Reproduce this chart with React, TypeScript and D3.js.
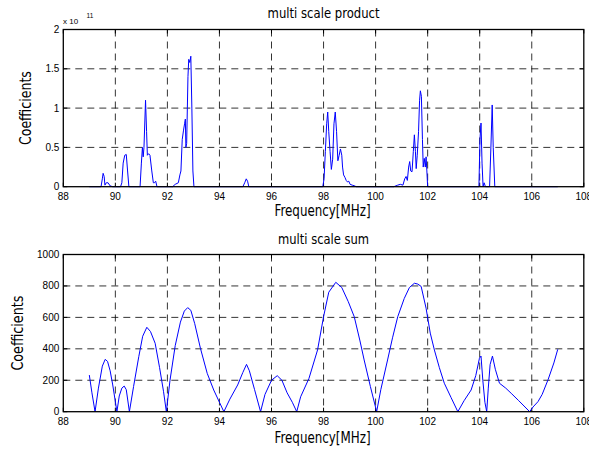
import React from "react";
import * as d3 from "d3";

const W = 589;
const H = 451;

// x ticks (MHz)
const xTicks = [88, 90, 92, 94, 96, 98, 100, 102, 104, 106, 108];
const topYTicks = [0, 0.5, 1, 1.5, 2];
const topYTickLabels = ["0", "0.5", "1", "1.5", "2"];
const botYTicks = [0, 200, 400, 600, 800, 1000];

// multi scale product (x 1e11)
const prodFreq = [
  89.0, 89.45, 89.5, 89.53, 89.57, 89.6, 89.65, 89.72, 89.8, 89.9,
  90.2, 90.25, 90.3, 90.36, 90.42, 90.47, 90.52,
  90.95, 91.0, 91.04, 91.07, 91.1, 91.16, 91.2, 91.23, 91.28, 91.33, 91.4, 91.46, 91.5, 91.55, 91.6,
  92.2, 92.3, 92.42, 92.48, 92.52, 92.57, 92.62, 92.66, 92.69, 92.71, 92.74, 92.79, 92.82, 92.86, 92.9, 92.94, 92.98, 93.02,
  94.9, 94.97, 95.03, 95.08, 95.13,
  97.97, 98.02, 98.07, 98.12, 98.16, 98.2, 98.25, 98.3, 98.35, 98.4, 98.45, 98.5, 98.55, 98.6, 98.65, 98.7, 98.73, 98.77, 98.82, 98.87, 98.92, 98.97, 99.02, 99.1, 99.2, 99.25,
  100.7, 100.85, 100.95, 101.05, 101.12, 101.17, 101.22, 101.27, 101.31, 101.35, 101.4, 101.45, 101.49, 101.53, 101.56, 101.6, 101.65, 101.69, 101.72, 101.76, 101.8, 101.83, 101.87, 101.91, 101.94, 101.97, 102.0,
  103.97, 104.01, 104.05, 104.09, 104.13, 104.17, 104.22,
  104.38, 104.43, 104.48, 104.52, 104.58,
  107.0,
];
const prodValue = [
  0, 0, 0.1, 0.17, 0.13, 0.02, 0.05, 0.05, 0.01, 0,
  0, 0.05, 0.3, 0.4, 0.41, 0.2, 0,
  0, 0.3, 0.5, 0.38, 0.5, 1.1, 0.7, 0.4, 0.42, 0.4, 0.2, 0.05, 0.05, 0.07, 0,
  0, 0.03, 0.05, 0.15, 0.2, 0.6, 0.72, 0.8, 0.86, 0.5, 0.55, 1.4, 1.62, 1.58, 1.66, 1.0, 0.2, 0,
  0, 0.05, 0.1, 0.07, 0,
  0, 0.1, 0.45, 0.8, 0.95, 0.7, 0.45, 0.22, 0.35, 0.8, 0.95, 0.7, 0.33, 0.4, 0.48, 0.4, 0.25, 0.15, 0.12, 0.08, 0.06, 0.07, 0.03, 0.02, 0.01, 0,
  0, 0.02, 0.03, 0.02, 0.1, 0.13, 0.08, 0.25, 0.32, 0.2, 0.19, 0.45, 0.66, 0.45, 0.23, 0.4, 0.7, 1.1, 1.22, 1.15, 0.6, 0.25, 0.36, 0.25, 0.38, 0.2, 0,
  0, 0.6, 0.81, 0.3, 0, 0.05, 0,
  0, 0.5, 1.04, 0.5, 0,
  0,
];

// multi scale sum
const sumFreq = [
  89.0, 89.1, 89.22, 89.35, 89.5, 89.61, 89.7, 89.8, 89.9, 90.06,
  90.15, 90.25, 90.34, 90.42, 90.54,
  90.7, 90.9, 91.05, 91.21, 91.35, 91.53, 91.7, 91.85, 91.96,
  92.1, 92.3, 92.5, 92.65, 92.78, 92.9, 93.05, 93.27, 93.53, 93.78, 94.0, 94.17,
  94.4, 94.7, 94.9, 95.04, 95.15, 95.35, 95.58,
  95.75, 96.0, 96.22, 96.4, 96.6, 96.8, 96.97,
  97.12, 97.44, 97.77, 98.0, 98.2, 98.47, 98.7, 98.95, 99.18, 99.4, 99.56, 99.8, 100.04,
  100.2, 100.46, 100.65, 100.85, 101.1, 101.3, 101.49, 101.62, 101.75, 101.94, 102.1, 102.26, 102.45, 102.64, 102.9, 103.16,
  103.4, 103.67, 103.85, 103.99, 104.05, 104.12, 104.2, 104.27, 104.33, 104.4, 104.49, 104.6, 104.76,
  105.0, 105.21, 105.5, 105.92, 106.05, 106.24, 106.4, 106.63, 106.85, 107.0,
];
const sumValue = [
  233, 120, 0, 150, 290, 333, 320, 260, 170, 0,
  100, 150, 163, 140, 0,
  160, 350, 480, 537, 510, 435, 280, 130, 0,
  200, 420, 570, 640, 662, 645, 560, 403, 244, 138, 60, 0,
  80, 170, 250, 301, 260, 140, 0,
  110, 200, 229, 200, 120, 60, 0,
  95, 212, 393, 604, 760, 823, 790, 700, 604, 450, 329, 160, 0,
  140, 329, 470, 604, 720, 790, 817, 812, 797, 658, 500, 392, 280, 181, 90, 0,
  70, 138, 230, 340, 354, 200, 60, 0, 150, 300, 354, 270, 181,
  150, 117, 70, 0, 30, 64, 110, 205, 310, 397,
];

const X0 = 63.3;
const X1 = 583.8;

const condensed = "'DejaVu Sans Condensed', 'Liberation Sans Narrow', sans-serif";
const tickFont = "'Liberation Sans', Arial, sans-serif";

function Panel({
  top, bottom, yDomain, yTicks, yLabels, xs, ys, title, titleY, xLabelY, yLabelX, yLabelW, titleW,
}: any) {
  const x = d3.scaleLinear().domain([88, 108]).range([X0, X1]);
  const y = d3.scaleLinear().domain(yDomain).range([bottom, top]);
  const pts: [number, number][] = xs.map((f: number, i: number) => [f, ys[i]]);
  const line = d3.line<[number, number]>().x((d) => x(d[0])).y((d) => y(d[1]));
  const midY = (top + bottom) / 2;
  return (
    <g>
      {xTicks.slice(1, -1).map((t) => (
        <line key={"gx" + t} x1={x(t)} x2={x(t)} y1={top} y2={bottom} stroke="#000" strokeWidth={0.8} strokeDasharray="7,5" />
      ))}
      {yTicks.slice(1, -1).map((t: number) => (
        <line key={"gy" + t} x1={X0} x2={X1} y1={y(t)} y2={y(t)} stroke="#000" strokeWidth={0.8} strokeDasharray="7,5" />
      ))}
      {xTicks.map((t) => (
        <g key={"tx" + t}>
          <line x1={x(t)} x2={x(t)} y1={bottom} y2={bottom - 4} stroke="#000" />
          <line x1={x(t)} x2={x(t)} y1={top} y2={top + 4} stroke="#000" />
          <text x={x(t)} y={bottom + 13} textAnchor="middle" fontSize={10} fontFamily={tickFont} fill="#000">{t}</text>
        </g>
      ))}
      {yTicks.map((t: number, i: number) => (
        <g key={"ty" + t}>
          <line x1={X0} x2={X0 + 4} y1={y(t)} y2={y(t)} stroke="#000" />
          <line x1={X1} x2={X1 - 4} y1={y(t)} y2={y(t)} stroke="#000" />
          <text x={X0 - 4} y={y(t) + 3.5} textAnchor="end" fontSize={10} fontFamily={tickFont} fill="#000">{yLabels[i]}</text>
        </g>
      ))}
      <path d={line(pts) || ""} fill="none" stroke="#0000ff" strokeWidth={1} />
      <rect x={X0} y={top} width={X1 - X0} height={bottom - top} fill="none" stroke="#000" strokeWidth={1.3} />
      <text x={(X0 + X1) / 2} y={titleY} textAnchor="middle" fontSize={14} fontFamily={condensed} fill="#000" textLength={titleW} lengthAdjust="spacingAndGlyphs">{title}</text>
      <text x={(X0 + X1) / 2 - 1} y={xLabelY} textAnchor="middle" fontSize={15} fontFamily={condensed} fill="#000" textLength={96} lengthAdjust="spacingAndGlyphs">Frequency[MHz]</text>
      <text transform={`translate(${yLabelX},${midY}) rotate(-90)`} textAnchor="middle" fontSize={15} fontFamily={condensed} fill="#000" textLength={yLabelW} lengthAdjust="spacingAndGlyphs">Coefficients</text>
    </g>
  );
}

export default function App() {
  return (
    <div style={{ position: "absolute", left: 0, top: 0 }}>
      <svg width={W} height={H} style={{ display: "block", background: "#fff" }}>
        <rect width={W} height={H} fill="#fff" />
        <Panel top={29.5} bottom={186.7} yDomain={[0, 2]} yTicks={topYTicks} yLabels={topYTickLabels}
          xs={prodFreq} ys={prodValue} title="multi scale product" titleY={18} xLabelY={216}
          yLabelX={31} yLabelW={74} titleW={112} />
        <Panel top={254.5} bottom={411.7} yDomain={[0, 1000]} yTicks={botYTicks} yLabels={botYTicks.map(String)}
          xs={sumFreq} ys={sumValue} title="multi scale sum" titleY={244} xLabelY={443}
          yLabelX={23} yLabelW={75} titleW={91} />
        <text x={63} y={24} fontSize={8} fontFamily={tickFont} fill="#000">x 10</text>
        <text x={86.5} y={18} fontSize={6.5} fontFamily={tickFont} fill="#000">11</text>
      </svg>
    </div>
  );
}
